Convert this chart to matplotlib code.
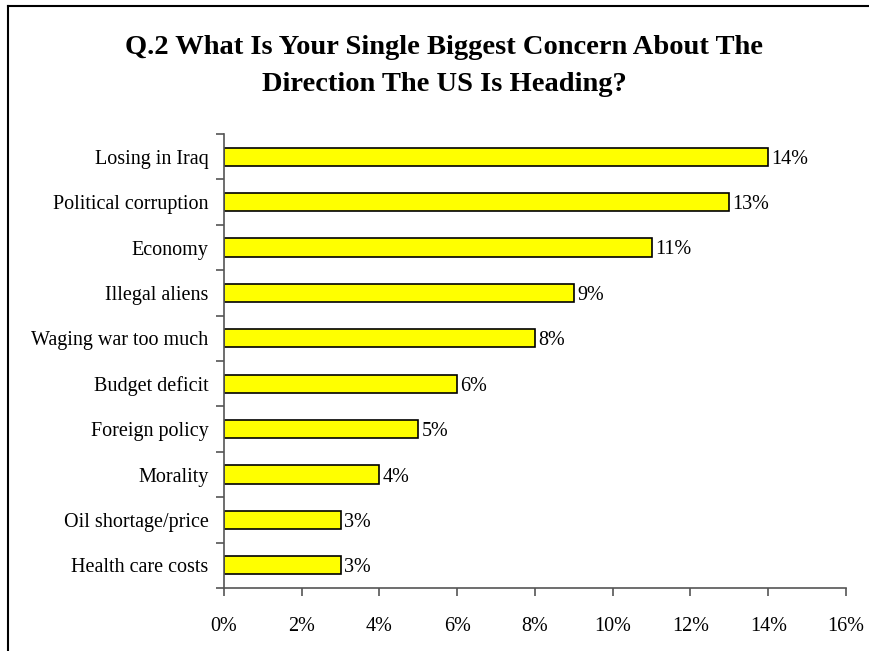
import matplotlib.pyplot as plt
from matplotlib.lines import Line2D

concerns = ['Losing in Iraq', 'Political corruption', 'Economy', 'Illegal aliens',
            'Waging war too much', 'Budget deficit', 'Foreign policy', 'Morality',
            'Oil shortage/price', 'Health care costs']
shares = [14, 13, 11, 9, 8, 6, 5, 4, 3, 3]
xticks = [0, 2, 4, 6, 8, 10, 12, 14, 16]

plt.rcParams['font.family'] = ['Liberation Serif', 'DejaVu Serif']

fig = plt.figure(figsize=(8.7, 6.51), dpi=100)
W, H = 870, 651
ax = fig.add_axes([224 / W, 1 - 588 / H, (846 - 224) / W, (588 - 134) / H])

pos = list(range(len(concerns)))
ax.barh(pos, shares, height=0.4, color='#ffff00', edgecolor='black', linewidth=1.2)
for p, v in zip(pos, shares):
    ax.text(v + 0.08, p, f'{v}%', va='center_baseline', ha='left', fontsize=14.5)

ax.set_ylim(len(concerns) - 0.5, -0.5)
ax.set_xlim(0, 16)
ax.set_yticks(pos)
ax.set_yticklabels(concerns, fontsize=14.5)
ax.set_yticks([p - 0.5 for p in pos] + [len(concerns) - 0.5], minor=True)
ax.tick_params(axis='y', which='major', length=0, pad=11)
ax.tick_params(axis='y', which='minor', length=6, color='#555555', width=1.2)
ax.set_xticks(xticks)
ax.set_xticklabels([f'{t}%' for t in xticks], fontsize=14.5)
ax.tick_params(axis='x', length=6, color='#555555', width=1.2, pad=15)

for side in ['top', 'right']:
    ax.spines[side].set_visible(False)
for side in ['left', 'bottom']:
    ax.spines[side].set_color('#555555')
    ax.spines[side].set_linewidth(1.2)

fig.text(444 / W, 1 - 66 / H, 'Q.2 What Is Your Single Biggest Concern About The\nDirection The US Is Heading?',
         ha='center', va='center', fontsize=20.5, fontweight='bold', linespacing=1.63)

# outer frame, top and left edges only
fig.add_artist(Line2D([8 / W, 1], [1 - 6 / H, 1 - 6 / H], transform=fig.transFigure, color='black', lw=1.5))
fig.add_artist(Line2D([8 / W, 8 / W], [0, 1 - 6 / H], transform=fig.transFigure, color='black', lw=1.5))

fig.savefig('out.png', dpi=100)
